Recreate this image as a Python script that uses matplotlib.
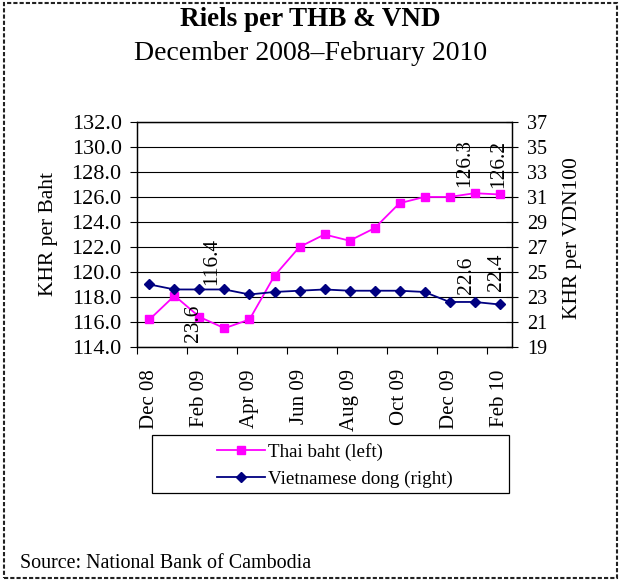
import matplotlib
matplotlib.use('Agg')
import matplotlib.pyplot as plt
from matplotlib.patches import Rectangle

# monthly data, Dec 08 - Feb 10
months = ['Dec 08', 'Jan 09', 'Feb 09', 'Mar 09', 'Apr 09', 'May 09', 'Jun 09', 'Jul 09',
          'Aug 09', 'Sep 09', 'Oct 09', 'Nov 09', 'Dec 09', 'Jan 10', 'Feb 10']
thb = [116.2, 118.1, 116.4, 115.5, 116.2, 119.7, 122.0, 123.0, 122.5, 123.5,
       125.5, 126.0, 126.0, 126.3, 126.2]
vnd = [24.0, 23.6, 23.6, 23.6, 23.2, 23.4, 23.5, 23.6, 23.5, 23.5,
       23.5, 23.4, 22.6, 22.6, 22.4]
left_ticks = [114, 116, 118, 120, 122, 124, 126, 128, 130, 132]
right_ticks = [19, 21, 23, 25, 27, 29, 31, 33, 35, 37]

plt.rcParams['font.family'] = ['Liberation Serif', 'DejaVu Serif']
fs = 15.5

fig = plt.figure(figsize=(6.21, 5.81), dpi=100)
ax = fig.add_axes([0.2206, 0.4028, 0.6039, 0.3873])
ax2 = ax.twinx()

x = list(range(len(months)))
ax.plot(x, thb, color='#FF00FF', marker='s', markersize=5.5, lw=1.3, label='Thai baht (left)', zorder=3)
ax2.plot(x, vnd, color='#000080', marker='D', markersize=5, lw=1.3, label='Vietnamese dong (right)', zorder=3)

ax.set_ylim(114, 132)
ax.set_yticks(left_ticks)
ax.set_yticklabels([f'{t:.1f}' for t in left_ticks], fontsize=16)
ax2.set_ylim(19, 37)
ax2.set_yticks(right_ticks)
ax2.set_yticklabels([str(t) for t in right_ticks], fontsize=14.5)
ax.grid(True, axis='y', color='black', lw=0.8)
ax.set_axisbelow(True)

ax.set_xlim(-0.5, len(months) - 0.5)
ax.set_xticks([i + 0.5 for i in range(-1, len(months) - 1, 2)])
ax.set_xticklabels([])
ax.set_xticks(x[::2], minor=True)
ax.set_xticklabels(months[::2], minor=True, rotation=90, fontsize=15)
ax.tick_params(axis='x', which='major', direction='out', length=5)
ax.tick_params(axis='x', which='minor', length=0, pad=16)
ax.tick_params(axis='y', direction='out', length=5, pad=6)
ax2.tick_params(axis='y', direction='inout', length=8, pad=7)

for sp in ['top', 'bottom', 'left', 'right']:
    ax.spines[sp].set_linewidth(0.9)
    ax2.spines[sp].set_linewidth(0.9)

# data labels
lab_kw = dict(textcoords='offset pixels', rotation=90, ha='center', va='bottom', fontsize=fs)
ax.annotate(f'{thb[2]:.1f}', (2, thb[2]), xytext=(12, 32), **lab_kw)
ax.annotate(f'{thb[13]:.1f}', (13, thb[13]), xytext=(-10, 6), **lab_kw)
ax.annotate(f'{thb[14]:.1f}', (14, thb[14]), xytext=(-1, 6), **lab_kw)
ax2.annotate(f'{vnd[2]:.1f}', (2, vnd[2]), xytext=(-6, -15), textcoords='offset pixels',
             rotation=90, ha='center', va='top', fontsize=fs)
ax2.annotate(f'{vnd[13]:.1f}', (13, vnd[13]), xytext=(-8, 8), **lab_kw)
ax2.annotate(f'{vnd[14]:.1f}', (14, vnd[14]), xytext=(-3, 13), **lab_kw)

fig.text(48 / 621, 1 - 234 / 581, 'KHR per Baht', rotation=90, ha='center', va='center', fontsize=fs)
fig.text(573 / 621, 1 - 238 / 581, 'KHR per VDN100', rotation=90, ha='center', va='center', fontsize=fs)

fig.text(0.5, 1 - 19 / 581, 'Riels per THB & VND', ha='center', va='center', fontsize=19.5, fontweight='bold')
fig.text(0.5, 1 - 53 / 581, 'December 2008\u2013February 2010', ha='center', va='center', fontsize=20)
fig.text(20 / 621, 1 - 564 / 581, 'Source: National Bank of Cambodia', ha='left', va='center', fontsize=14.4)

# legend box
fig.patches.append(Rectangle((152 / 621, 1 - 493 / 581), 357 / 621, 58 / 581, transform=fig.transFigure,
                             fill=False, edgecolor='black', lw=0.9))
h1, l1 = ax.get_legend_handles_labels()
h2, l2 = ax2.get_legend_handles_labels()
fig.legend(h1 + h2, l1 + l2, loc='upper left', bbox_to_anchor=(217 / 621, 1 - 443 / 581),
           frameon=False, fontsize=13.7, handlelength=2.5, handletextpad=0.2,
           borderpad=0, borderaxespad=0, labelspacing=0.5)

# dashed outer frame
fig.patches.append(Rectangle((4 / 621, 3 / 581), 613 / 621, 575 / 581, transform=fig.transFigure,
                             fill=False, edgecolor='#222222', lw=1.5, linestyle=(0, (2, 1))))

fig.savefig('out.png', dpi=100)
